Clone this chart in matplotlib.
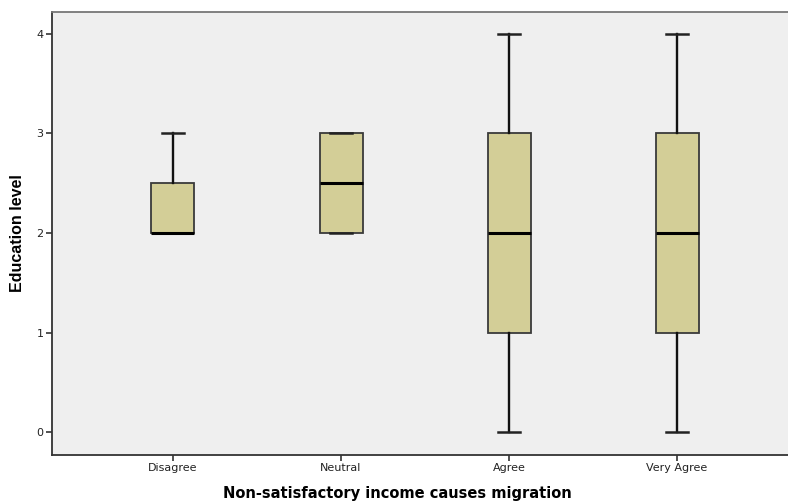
import matplotlib
matplotlib.use("Agg")
import matplotlib.pyplot as plt

categories = ["Disagree", "Neutral", "Agree", "Very Agree"]
whisker_low = [2, 2, 0, 0]
q1 = [2, 2, 1, 1]
median = [2, 2.5, 2, 2]
q3 = [2.5, 3, 3, 3]
whisker_high = [3, 3, 4, 4]
y_ticks = [0, 1, 2, 3, 4]

stats = [
    dict(label=c, whislo=lo, q1=a, med=m, q3=b, whishi=hi, fliers=[])
    for c, lo, a, m, b, hi in zip(categories, whisker_low, q1, median, q3, whisker_high)
]

fig = plt.figure(figsize=(7.88, 5.04), dpi=100)
ax = fig.add_axes([52 / 788, 49 / 504, 1 - 52 / 788, (455 - 12) / 504])
ax.set_facecolor("#efefef")

positions = list(range(1, len(categories) + 1))
ax.bxp(
    stats,
    positions=positions,
    widths=0.256,
    patch_artist=True,
    showfliers=False,
    boxprops=dict(facecolor="#d3ce97", edgecolor="#3a3a3a", linewidth=1.3),
    medianprops=dict(color="black", linewidth=2.2),
    whiskerprops=dict(color="#111111", linewidth=1.7),
    capprops=dict(color="#222222", linewidth=1.8),
    capwidths=0.128,
)

ax.set_xlim(0.28, 4.66)
ax.set_ylim(-0.231, 4.221)
ax.set_yticks(y_ticks)
ax.set_yticklabels([str(t) for t in y_ticks])
ax.set_xticks(positions)
ax.set_xticklabels(categories)

for side in ("left", "bottom"):
    ax.spines[side].set_color("#333333")
    ax.spines[side].set_linewidth(1.3)
ax.spines["top"].set_color("#777777")
ax.spines["top"].set_linewidth(1.3)
ax.spines["right"].set_visible(False)

ax.tick_params(axis="both", direction="out", length=4, width=1.2, color="#333333",
               labelsize=8, labelcolor="#222222", pad=2)
for lab in ax.get_xticklabels() + ax.get_yticklabels():
    lab.set_family(["DejaVu Sans"])

ax.set_xlabel("Non-satisfactory income causes migration", fontsize=10.5,
              fontweight="bold", family=["DejaVu Sans"])
ax.xaxis.set_label_coords((397 - 52) / 736, -(486 - 455) / 443)
ax.set_ylabel("Education level", fontsize=11.5, fontweight="bold",
              family=["Liberation Sans Narrow", "Liberation Sans", "DejaVu Sans"])
ax.yaxis.set_label_coords(-(52 - 25) / 736, 0.5)

fig.savefig("out.png", dpi=100)
